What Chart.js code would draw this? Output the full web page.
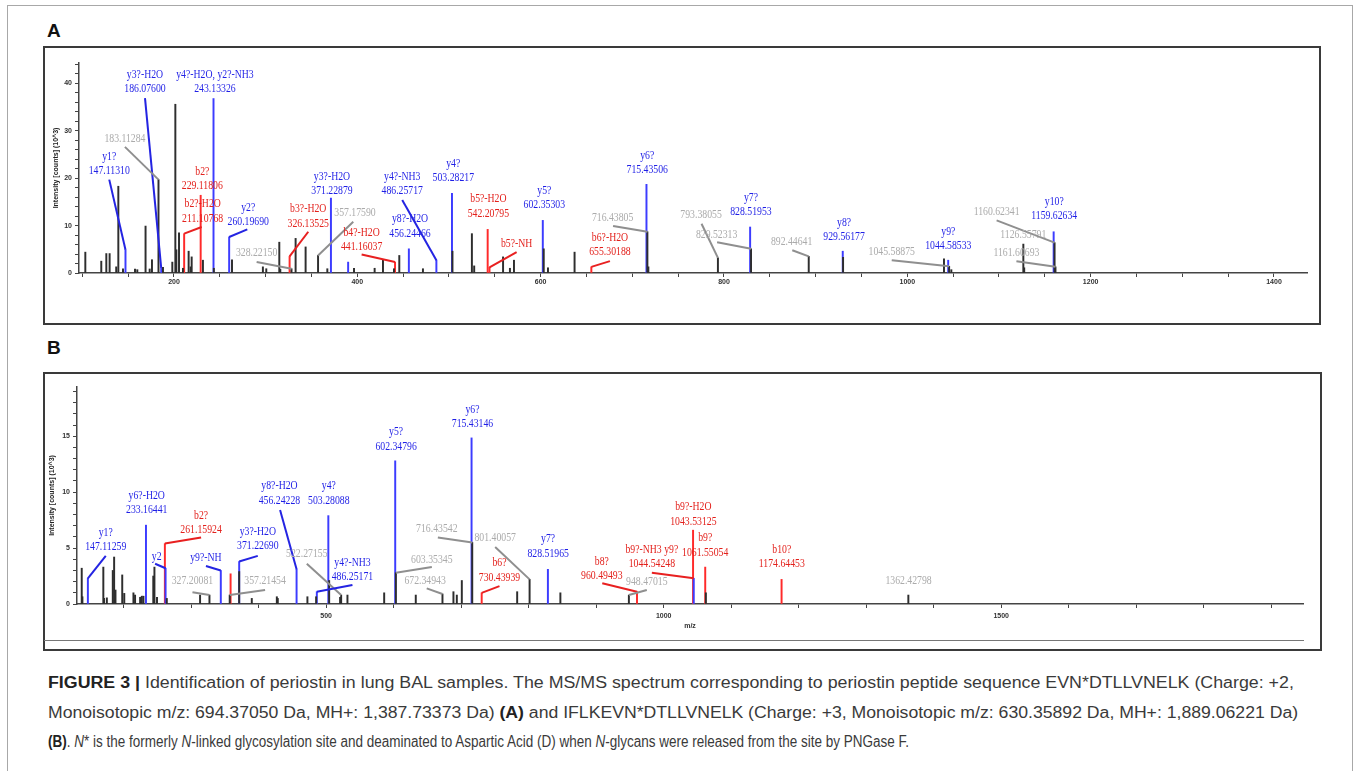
<!DOCTYPE html>
<html>
<head>
<meta charset="utf-8">
<script src="https://cdn.jsdelivr.net/npm/chart.js@4.4.1/dist/chart.umd.min.js"></script>
<style>
  html, body { margin: 0; padding: 0; background: #fff; }
  body { width: 1357px; height: 771px; position: relative; overflow: hidden; font-family: "Liberation Sans", Arial, sans-serif; }
  .frame { position: absolute; left: 7px; top: 5px; width: 1346px; height: 800px; border: 1px solid #a8a8a8; box-sizing: border-box; }
  .panel { position: absolute; border: 2px solid #3a3a3a; box-sizing: border-box; }
  .tag { position: absolute; font: bold 19px "Liberation Sans", Arial, sans-serif; color: #111; }
  canvas { position: absolute; }
  .rule { position: absolute; height: 0; border-top: 1.5px solid #777; }
  .cap { position: absolute; left: 48px; white-space: nowrap; font-size: 16px; line-height: 20px; color: #3a3a3a; transform-origin: 0 50%; }
  .cap b { color: #222; }
</style>
</head>
<body>
<div class="frame"></div>

<div class="tag" style="left:47px; top:20px;">A</div>
<div class="panel" style="left:43px; top:46px; width:1278px; height:279px;"></div>
<canvas id="chartA" width="1273" height="274" style="left:45px; top:48px;"></canvas>

<div class="tag" style="left:47px; top:337px;">B</div>
<div class="panel" style="left:43px; top:372px; width:1279px; height:279px;"></div>
<canvas id="chartB" width="1274" height="266" style="left:45px; top:374px;"></canvas>
<div class="rule" style="left:44px; top:640px; width:1260px;"></div>

<div class="cap" id="cap1" style="top:673px;"><b>FIGURE 3 |</b> Identification of periostin in lung BAL samples. The MS/MS spectrum corresponding to periostin peptide sequence EVN*DTLLVNELK (Charge: +2,</div>
<div class="cap" id="cap2" style="top:703px;">Monoisotopic m/z: 694.37050 Da, MH+: 1,387.73373 Da) <b>(A)</b> and IFLKEVN*DTLLVNELK (Charge: +3, Monoisotopic m/z: 630.35892 Da, MH+: 1,889.06221 Da)</div>
<div class="cap" id="cap3" style="top:732px;"><b>(B)</b>. <i>N</i>* is the formerly <i>N</i>-linked glycosylation site and deaminated to Aspartic Acid (D) when <i>N</i>-glycans were released from the site by PNGase F.</div>

<script>
// ---------- Panel A data (m/z, intensity in 10^3 counts) ----------
const aBlackMz  = [103.3, 120.7, 126.2, 129.8, 137, 139.3, 144.4, 157.5, 160, 169, 173.5, 176, 183.11, 188, 198.2, 201.5, 202.6, 205.5, 209.8, 216, 218.2, 219.3, 231.6, 243.5, 263.3, 297, 300.7, 314.9, 316, 328.22, 332.7, 343.6, 357.18, 367.3, 396.4, 418.9, 428, 440, 445.8, 471.6, 503.8, 525, 527.5, 559, 566.5, 570.9, 603.35, 608, 637, 716.44, 717.5, 793.38, 829.52, 892.45, 929.9, 1040, 1045.59, 1048, 1126.56, 1127.5, 1160.62, 1161.61];
const aBlackInt = [4.4, 2.5, 4.1, 4.1, 1.3, 18.3, 0.9, 0.85, 0.7, 9.9, 0.85, 2.8, 19.7, 1.2, 2.3, 35.6, 4.9, 8.5, 1.0, 4.6, 1.3, 3.4, 2.7, 1.0, 2.8, 1.3, 0.9, 6.5, 0.8, 0.9, 7.3, 5.5, 3.7, 0.9, 1.0, 1.0, 2.8, 0.9, 3.7, 0.9, 4.6, 8.3, 1.5, 3.4, 1.0, 2.7, 5.1, 1.1, 4.4, 8.7, 1.3, 3.2, 5.1, 3.5, 3.3, 3.0, 1.4, 0.7, 6.1, 1.1, 6.4, 1.3];
const aBlueMz   = [147.11, 186.08, 243.13, 260.20, 371.23, 390, 456.24, 486.26, 503.28, 602.35, 715.44, 828.52, 929.56, 1044.59, 1159.63];
const aBlueInt  = [4.9, 1.1, 36.8, 7.6, 15.8, 2.3, 5.1, 2.7, 16.8, 11.1, 18.7, 9.7, 4.6, 2.7, 8.7];
const aRedMz    = [211.11, 229.12, 326.14, 441.16, 542.21, 544.2, 655.30];
const aRedInt   = [8.3, 16.4, 3.5, 2.3, 9.2, 1.2, 1.3];

// labels: text lines, ion type (y = blue, b = red, p = plain mass), peak it points at
const aLabels = [
  ['y3?-H2O', '186.07600'], ['y4?-H2O, y2?-NH3', '243.13326'], ['183.11284'], ['y1?', '147.11310'],
  ['b2?', '229.11806'], ['b2?-H2O', '211.10768'], ['y2?', '260.19690'], ['328.22150'],
  ['b3?-H2O', '326.13525'], ['357.17590'], ['y3?-H2O', '371.22879'], ['b4?-H2O', '441.16037'],
  ['y8?-H2O', '456.24466'], ['y4?-NH3', '486.25717'], ['y4?', '503.28217'], ['b5?-H2O', '542.20795'],
  ['b5?-NH'], ['y5?', '602.35303'], ['b6?-H2O', '655.30188'], ['y6?', '715.43506'],
  ['716.43805'], ['793.38055'], ['y7?', '828.51953'], ['829.52313'],
  ['892.44641'], ['y8?', '929.56177'], ['1045.58875'], ['y9?', '1044.58533'],
  ['1160.62341'], ['y10?', '1159.62634'], ['1126.55791'], ['1161.60693']
];
const aLabelTypes = ['y', 'y', 'p', 'y', 'b', 'b', 'y', 'p', 'b', 'p', 'y', 'b', 'y', 'y', 'y', 'b',
                     'b', 'y', 'b', 'y', 'p', 'p', 'y', 'p', 'p', 'y', 'p', 'y', 'p', 'y', 'p', 'p'];
const aLabelPeaks = [[186.08, 1.1], [243.13, 36.8], [183.11, 19.7], [147.11, 4.9], [229.12, 16.4], [211.11, 8.3],
  [260.20, 7.6], [328.22, 0.9], [326.14, 3.5], [357.18, 3.7], [371.23, 15.8], [441.16, 2.3], [456.24, 5.1],
  [486.26, 2.7], [503.28, 16.8], [542.21, 9.2], [544.2, 1.2], [602.35, 11.1], [655.30, 1.3], [715.44, 18.7],
  [716.44, 8.7], [793.38, 3.2], [828.52, 9.7], [829.52, 5.1], [892.45, 3.5], [929.56, 4.6], [1045.59, 1.4],
  [1044.59, 2.7], [1160.62, 6.4], [1159.63, 8.7], [1126.56, 6.1], [1161.61, 1.3]];

const aXTicks   = [100, 150, 200, 250, 300, 350, 400, 450, 500, 550, 600, 650, 700, 750, 800, 850, 900, 950, 1000, 1050, 1100, 1150, 1200, 1250, 1300, 1350, 1400];
const aXLabels  = [200, 400, 600, 800, 1000, 1200, 1400];
const aYTicks   = [0, 2, 4, 6, 8, 10, 12, 14, 16, 18, 20, 22, 24, 26, 28, 30, 32, 34, 36, 38, 40, 42, 44];
const aYLabels  = [0, 10, 20, 30, 40];

// ---------- Panel B data ----------
const bBlackMz  = [138, 139, 170, 171, 175.2, 184, 186, 188, 198, 201, 214.6, 217, 224.5, 227, 229.4, 244, 245.7, 249.5, 264, 313.3, 327.2, 357.21, 371.23, 389.9, 427, 428.4, 472.3, 485.2, 504.5, 520.7, 522.27, 531.6, 586, 603.35, 632.8, 672.35, 688.6, 693.6, 701, 716.44, 783, 801.40, 847, 948.47, 1062.5, 1362.43];
const bBlackInt = [3.2, 0.65, 3.3, 0.5, 0.55, 3.0, 4.2, 1.25, 2.6, 0.95, 1.0, 0.8, 0.6, 0.7, 0.7, 2.5, 3.3, 0.6, 0.5, 0.8, 0.8, 0.8, 2.9, 0.5, 0.65, 0.5, 0.65, 0.65, 2.1, 0.6, 0.8, 0.8, 1.0, 2.8, 0.8, 0.9, 1.1, 0.8, 2.1, 5.5, 1.1, 2.2, 1.0, 0.8, 1.0, 0.8];
const bBlueMz   = [147.11, 233.16, 262.2, 344, 371.23, 456.24, 486.25, 503.28, 602.35, 715.43, 828.52, 1044.54];
const bBlueInt  = [2.3, 7.05, 3.2, 3.0, 3.8, 3.1, 1.1, 7.9, 12.8, 14.85, 3.1, 2.3];
const bRedMz    = [261.16, 358.5, 730.44, 960.49, 1043.53, 1061.55, 1174.64];
const bRedInt   = [5.4, 2.7, 1.0, 1.1, 6.6, 3.3, 2.2];

const bLabels = [
  ['y1?', '147.11259'], ['y6?-H2O', '233.16441'], ['b2?', '261.15924'], ['y2'], ['y9?-NH'],
  ['y3?-H2O', '371.22690'], ['327.20081'], ['357.21454'], ['y8?-H2O', '456.24228'], ['y4?', '503.28088'],
  ['522.27155'], ['y4?-NH3', '486.25171'], ['y5?', '602.34796'], ['603.35345'], ['672.34943'],
  ['y6?', '715.43146'], ['716.43542'], ['801.40057'], ['b6?', '730.43939'], ['y7?', '828.51965'],
  ['b8?', '960.49493'], ['948.47015'], ['b9?-H2O', '1043.53125'], ['b9?-NH3 y9?', '1044.54248'],
  ['b9?', '1061.55054'], ['b10?', '1174.64453'], ['1362.42798']
];
const bLabelTypes = ['y', 'y', 'b', 'y', 'y', 'y', 'p', 'p', 'y', 'y', 'p', 'y', 'y', 'p', 'p',
                     'y', 'p', 'p', 'b', 'y', 'b', 'p', 'b', 'b', 'b', 'b', 'p'];
const bLabelPeaks = [[147.11, 2.3], [233.16, 7.05], [261.16, 5.4], [262.2, 3.2], [344, 3.0], [371.23, 3.8],
  [327.2, 0.8], [357.21, 0.8], [456.24, 3.1], [503.28, 7.9], [522.27, 0.8], [486.25, 1.1], [602.35, 12.8],
  [603.35, 2.8], [672.35, 0.9], [715.43, 14.85], [716.44, 5.5], [801.40, 2.2], [730.44, 1.0], [828.52, 3.1],
  [960.49, 1.1], [948.47, 0.8], [1043.53, 6.6], [1044.54, 2.3], [1061.55, 3.3], [1174.64, 2.2], [1362.43, 0.8]];

const bXTicks   = [200, 300, 400, 500, 600, 700, 800, 900, 1000, 1100, 1200, 1300, 1400, 1500, 1600, 1700, 1800, 1900];
const bXLabels  = [500, 1000, 1500];
const bYTicks   = [0, 1, 2, 3, 4, 5, 6, 7, 8, 9, 10, 11, 12, 13, 14, 15, 16, 17, 18, 19];
const bYLabels  = [0, 5, 10, 15];

// ---------- label placement (layout only): [label x, label y, leader start x, leader start y] in axis units ----------
const aPlace = [[168.4, 38.8, 168.4, 36.9], [244.7, 38.8], [146.5, 28.4, 146.5, 26.6], [129.4, 21.5, 129.4, 19.7],
  [230.9, 18.4], [231.3, 11.5, 230.2, 9.7], [281, 10.8, 280, 9.2], [290.2, 4.2, 290.2, 2.3],
  [346.5, 10.4, 346.5, 8.7], [397.5, 12.7, 395.6, 10.8], [372.4, 17.3], [404.7, 5.5, 404.7, 3.9],
  [457.5, 8.3], [449, 17.3, 449, 15.4], [504.7, 20], [543, 12.6],
  [573.8, 6.2, 573.8, 4.4], [604, 14.3], [675.6, 4.4, 675.6, 2.5], [716.3, 21.7],
  [678.5, 11.7, 679, 9.9], [775, 12.2, 775.5, 10.4], [829.4, 12.9], [792, 8.1, 792.5, 6.5],
  [873.8, 6.6, 874.5, 4.8], [931, 7.6], [983, 4.4, 983, 2.7], [1044.7, 5.7],
  [1097.4, 12.9, 1097.4, 11.1], [1160.3, 12], [1126.5, 8.0], [1119, 4.3, 1119, 2.5]];
const bPlace = [[173.6, 5.1, 173.6, 4.3], [234.3, 8.4], [314.8, 6.6, 314.8, 5.95], [249, 4.2, 246.7, 3.6],
  [322, 4.1, 322, 3.4], [398.8, 5.2, 398.8, 4.3], [302, 2.1, 302, 1.05], [409.6, 2.1, 409.6, 1.25],
  [430.9, 9.26, 431.8, 8.4], [504, 9.26], [471.4, 4.5, 471.4, 3.6], [539, 2.4, 539, 1.7],
  [603.7, 14.1], [656.6, 4.0, 656.6, 3.3], [646.7, 2.1, 649, 1.4], [716.8, 16.1],
  [664, 6.7, 665.5, 5.95], [750.4, 5.9, 750.4, 5.1], [756.8, 2.35, 756.8, 1.6], [828.9, 4.5],
  [908.4, 2.5, 909, 1.85], [975, 1.95, 975, 1.25], [1044, 7.4], [982.5, 3.6, 982.5, 2.8],
  [1061.5, 4.6], [1175, 3.6], [1362.7, 2.1]];

// ---------- styles ----------
const PEAK = { k: '#2e2e2e', y: '#3c3cff', b: '#ff2a2a' };
const TEXT = { y: '#1f1fe6', b: '#e3211c', p: '#ababab' };
const LEAD = { y: '#2424e2', b: '#e82020', p: '#8f8f8f' };
const LINE_H = 14.5;

function points(mz, val) {
  return mz.map((m, i) => ({ x: m, y: val[i] }));
}

function peakSet(mz, val, color) {
  return {
    data: points(mz, val),
    backgroundColor: color,
    borderWidth: 0,
    barThickness: 1.3,
    grouped: false
  };
}

// draws the ion labels and their leader lines
function labelPlugin(labels, types, peaks, place) {
  return {
    id: 'ionLabels',
    afterDatasetsDraw(chart) {
      const ctx = chart.ctx;
      const xs = chart.scales.x, ys = chart.scales.y;
      ctx.save();
      labels.forEach((lines, i) => {
        const t = types[i];
        const p = place[i];
        if (p.length > 2) {
          ctx.beginPath();
          ctx.moveTo(xs.getPixelForValue(p[2]), ys.getPixelForValue(p[3]));
          ctx.lineTo(xs.getPixelForValue(peaks[i][0]), ys.getPixelForValue(peaks[i][1]));
          ctx.strokeStyle = LEAD[t];
          ctx.lineWidth = 2;
          ctx.stroke();
        }
        const lx = xs.getPixelForValue(p[0]);
        const ly = ys.getPixelForValue(p[1]);
        ctx.fillStyle = TEXT[t];
        ctx.font = '12.5px "Liberation Serif", "Times New Roman", serif';
        ctx.textAlign = 'center';
        ctx.textBaseline = 'middle';
        lines.forEach((txt, k) => {
          ctx.save();
          ctx.translate(lx, ly - (lines.length - 1 - k) * LINE_H);
          ctx.scale(0.78, 1);
          ctx.fillText(txt, 0, 0);
          ctx.restore();
        });
      });
      ctx.restore();
    }
  };
}

function axis(opts) {
  return {
    type: 'linear',
    min: opts.min,
    max: opts.max,
    offset: false,
    afterBuildTicks: (s) => { s.ticks = opts.ticks.map(v => ({ value: v })); },
    afterFit: opts.fit,
    border: { display: true, color: '#444', width: 1.5 },
    grid: { drawOnChartArea: false, drawTicks: true, tickLength: 4, tickColor: '#444', tickWidth: 1, offset: false },
    ticks: {
      autoSkip: false,
      maxRotation: 0,
      padding: opts.pad,
      color: '#333',
      font: { family: '"Liberation Sans", Arial, sans-serif', size: 7, weight: 'bold' },
      callback: (v) => opts.labels.includes(v) ? String(v) : ''
    },
    title: opts.title
  };
}

function spectrum(id, sets, plugin, cfg) {
  return new Chart(document.getElementById(id), {
    type: 'bar',
    data: { datasets: sets },
    options: {
      responsive: false,
      animation: false,
      events: [],
      layout: { autoPadding: false, padding: cfg.padding },
      plugins: { legend: { display: false }, tooltip: { enabled: false } },
      scales: { x: cfg.x, y: cfg.y }
    },
    plugins: [plugin]
  });
}

const yTitle = (pad) => ({
  display: true,
  text: 'Intensity [counts] (10^3)',
  color: '#222',
  padding: { top: pad, bottom: 0 },
  font: { family: '"Liberation Sans", Arial, sans-serif', size: 7, weight: 'bold' }
});

spectrum('chartA',
  [peakSet(aBlackMz, aBlackInt, PEAK.k), peakSet(aBlueMz, aBlueInt, PEAK.y), peakSet(aRedMz, aRedInt, PEAK.b)],
  labelPlugin(aLabels, aLabelTypes, aLabelPeaks, aPlace),
  {
    padding: { left: 0, right: 11, top: 15, bottom: 0 },
    x: axis({ min: 96.4, max: 1436, ticks: aXTicks, labels: aXLabels, pad: 1, fit: (s) => { s.height = 49; },
              title: { display: false } }),
    y: axis({ min: 0, max: 44.3, ticks: aYTicks, labels: aYLabels, pad: 3, fit: (s) => { s.width = 34; },
              title: yTitle(6.5) })
  });

spectrum('chartB',
  [peakSet(bBlackMz, bBlackInt, PEAK.k), peakSet(bBlueMz, bBlueInt, PEAK.y), peakSet(bRedMz, bRedInt, PEAK.b)],
  labelPlugin(bLabels, bLabelTypes, bLabelPeaks, bPlace),
  {
    padding: { left: 0, right: 16, top: 13, bottom: 0 },
    x: axis({ min: 131, max: 1947, ticks: bXTicks, labels: bXLabels, pad: 4, fit: (s) => { s.height = 36; },
              title: { display: true, text: 'm/z', color: '#333', padding: { top: 0, bottom: 9.5 },
                       font: { family: '"Liberation Sans", Arial, sans-serif', size: 7, weight: 'bold' } } }),
    y: axis({ min: 0, max: 19.4, ticks: bYTicks, labels: bYLabels, pad: 3, fit: (s) => { s.width = 32; },
              title: yTitle(2.8) })
  });

// caption lines are stretched to the width they take in the figure
[['cap1', 1246], ['cap2', 1250], ['cap3', 861]].forEach(([id, w]) => {
  const el = document.getElementById(id);
  el.style.transform = 'scaleX(' + (w / el.offsetWidth) + ')';
});
</script>
</body>
</html>
